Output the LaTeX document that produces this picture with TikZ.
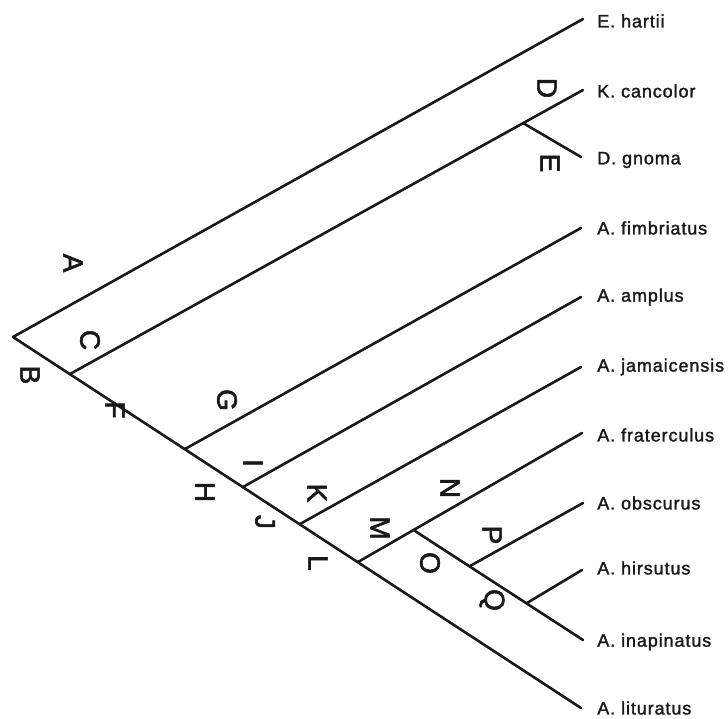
\documentclass[tikz,border=0pt]{standalone}
\usepackage{fontspec}
\setmainfont{Liberation Sans}
\newfontfamily\spfont[LetterSpace=5,FakeBold=1.6]{Liberation Sans}
\newfontfamily\lbfont[FakeBold=2]{Liberation Sans}
\begin{document}
\begin{tikzpicture}[x=1pt,y=-1pt,line width=2.6pt,
  branch/.style={draw=black!90,line cap=round},
  lab/.style={font=\lbfont\fontsize{28}{28}\selectfont,rotate=-90,inner sep=0pt,text=black!90},
  sp/.style={font=\spfont\fontsize{18}{18}\selectfont,anchor=west,inner sep=0pt,text=black!90}]
\useasboundingbox (0,0) rectangle (728,718);
% junction coordinates
\coordinate (root) at (13,337);
\coordinate (c) at (70,374);
\coordinate (de) at (523,123);
\coordinate (g) at (185,449);
\coordinate (i) at (243,487);
\coordinate (k) at (300,524);
\coordinate (m) at (358,562);
\coordinate (o) at (415,531);
\coordinate (p) at (470,566);
\coordinate (q) at (527,603);
% branch tips
\coordinate (teh) at (583,19);
\coordinate (tkc) at (583,90);
\coordinate (tdg) at (581,157);
\coordinate (tfim) at (581,228);
\coordinate (tamp) at (581,297);
\coordinate (tjam) at (581,367);
\coordinate (tfra) at (582,433);
\coordinate (tobs) at (583,503);
\coordinate (thir) at (582,570);
\coordinate (tina) at (583,640);
\coordinate (tlit) at (581,708);
% species labels
\node[sp] (eh) at (596,21) {E. hartii};
\node[sp] (kc) at (596,91) {K. cancolor};
\node[sp] (dg) at (596,160) {D. gnoma};
\node[sp] (fim) at (596,228) {A. fimbriatus};
\node[sp] (amp) at (596,297) {A. amplus};
\node[sp] (jam) at (596,367) {A. jamaicensis};
\node[sp] (fra) at (596,435) {A. fraterculus};
\node[sp] (obs) at (596,503) {A. obscurus};
\node[sp] (hir) at (596,568) {A. hirsutus};
\node[sp] (ina) at (596,642) {A. inapinatus};
\node[sp] (lit) at (596,708) {A. lituratus};
% branches
\draw[branch] (root) -- (tlit);
\draw[branch] (root) -- (teh);
\draw[branch] (c) -- (tkc);
\draw[branch] (de) -- (tdg);
\draw[branch] (g) -- (tfim);
\draw[branch] (i) -- (tamp);
\draw[branch] (k) -- (tjam);
\draw[branch] (m) -- (tfra);
\draw[branch] (o) -- (tina);
\draw[branch] (p) -- (tobs);
\draw[branch] (q) -- (thir);
% branch letters
\node[lab] (lA) at (73,263) {A};
\node[lab] (lB) at (30,375) {B};
\node[lab] (lC) at (90,340) {C};
\node[lab] (lD) at (547,88) {D};
\node[lab] (lE) at (550,163) {E};
\node[lab] (lF) at (115,410) {F};
\node[lab] (lG) at (227,400) {G};
\node[lab] (lH) at (205,492) {H};
\node[lab] (lI) at (253,463) {I};
\node[lab] (lJ) at (265,522) {J};
\node[lab] (lK) at (317,493) {K};
\node[lab] (lL) at (318,563) {L};
\node[lab] (lM) at (380,528) {M};
\node[lab] (lN) at (450,488) {N};
\node[lab] (lO) at (430,563) {O};
\node[lab] (lP) at (492,535) {P};
\node[lab] (lQ) at (492,600) {Q};
\end{tikzpicture}
\end{document}
